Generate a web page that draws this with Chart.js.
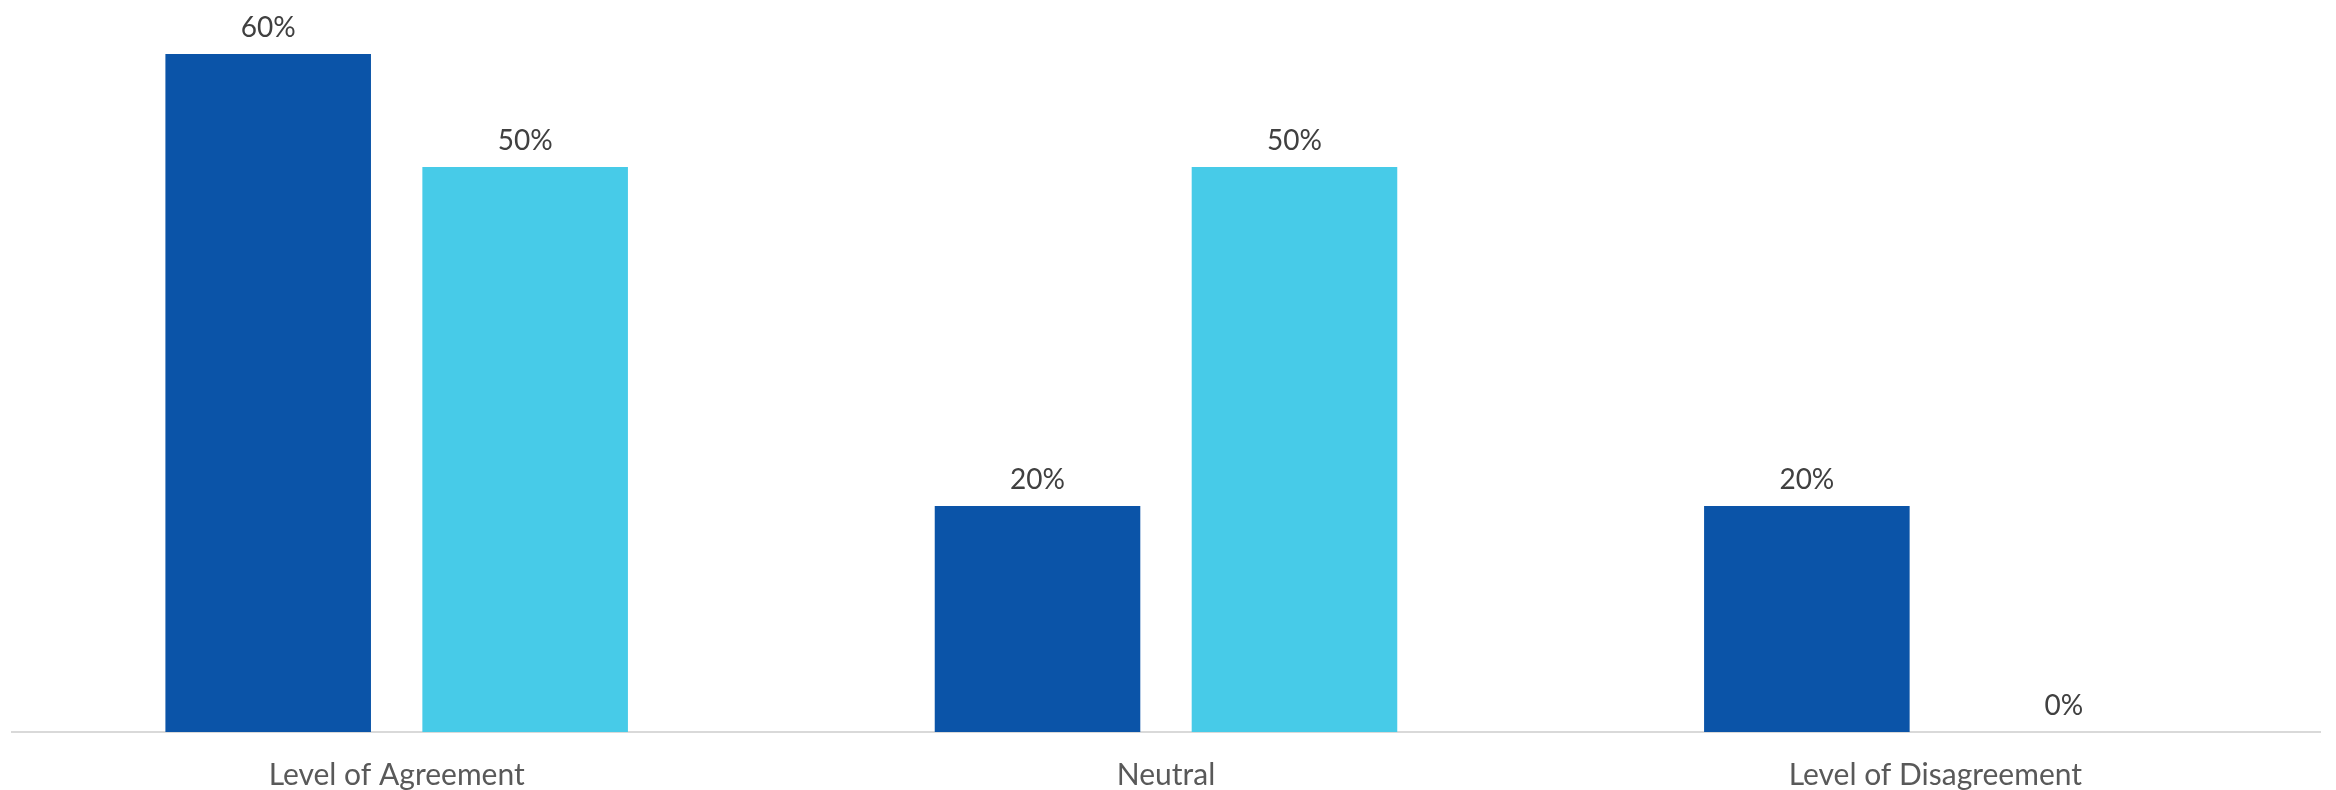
<!DOCTYPE html>
<html>
<head>
<meta charset="utf-8">
<script src="https://cdn.jsdelivr.net/npm/chart.js@4/dist/chart.umd.min.js"></script>
<style>
html,body{margin:0;padding:0;background:#fff;}
#wrap{width:2336px;height:790px;position:relative;}
</style>
</head>
<body>
<div id="wrap"><canvas id="c" width="2336" height="790"></canvas></div>
<script>
const categories = ["Level of Agreement", "Neutral", "Level of Disagreement"];
const seriesA = [60, 20, 20];
const seriesB = [50, 50, 0];
const seriesNames = ["Series 1", "Series 2"];
const colorA = "#0B54A8";
const colorB = "#47CBE8";

const valueLabels = {
  id: 'valueLabels',
  afterDatasetsDraw(chart) {
    const ctx = chart.ctx;
    ctx.save();
    ctx.font = '28px Lato, "Open Sans", sans-serif';
    ctx.fillStyle = '#404040';
    ctx.textAlign = 'center';
    ctx.textBaseline = 'bottom';
    chart.data.datasets.forEach((ds, i) => {
      const meta = chart.getDatasetMeta(i);
      meta.data.forEach((bar, j) => {
        ctx.fillText(ds.data[j] + '%', bar.x, bar.y - 12);
      });
    });
    ctx.restore();
  }
};

new Chart(document.getElementById('c'), {
  type: 'bar',
  data: {
    labels: categories,
    datasets: [
      { label: seriesNames[0], data: seriesA, backgroundColor: colorA, categoryPercentage: 0.668, barPercentage: 0.8 },
      { label: seriesNames[1], data: seriesB, backgroundColor: colorB, categoryPercentage: 0.668, barPercentage: 0.8 }
    ]
  },
  options: {
    responsive: false,
    animation: false,
    layout: { padding: { left: 12, right: 16, top: 54, bottom: 0 } },
    plugins: { legend: { display: false }, tooltip: { enabled: false } },
    scales: {
      x: {
        grid: { display: false, drawTicks: false },
        border: { display: true, color: '#d9d9d9', width: 2 },
        ticks: { color: '#595959', font: { family: 'Lato, "Open Sans", sans-serif', size: 30 }, padding: 25 },
        afterFit(scale) { scale.height = 58; }
      },
      y: {
        display: false,
        min: 0, max: 60
      }
    }
  },
  plugins: [valueLabels]
});
</script>
</body>
</html>
